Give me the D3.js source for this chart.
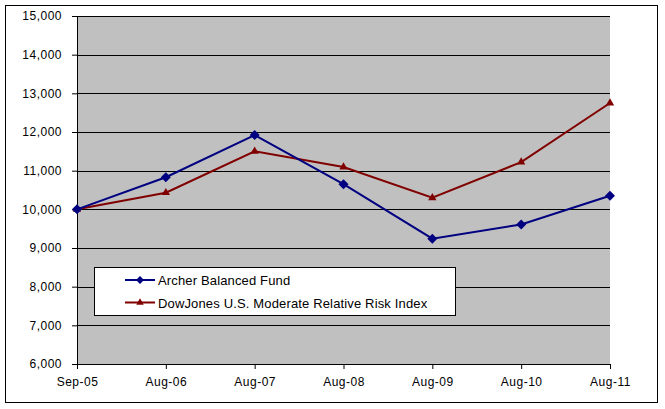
<!DOCTYPE html>
<html>
<head>
<meta charset="utf-8">
<script src="https://cdn.jsdelivr.net/npm/d3@7"></script>
<style>
  body { margin: 0; background: #fff; }
  text { font-family: "Liberation Sans", Arial, sans-serif; }
</style>
</head>
<body>
<div id="chart"></div>
<script>
// data
var months = ["Sep-05", "Aug-06", "Aug-07", "Aug-08", "Aug-09", "Aug-10", "Aug-11"];
var archer = [10000, 10830, 11920, 10650, 9240, 9610, 10350];
var dowJones = [10000, 10430, 11500, 11095, 10300, 11220, 12750];
var yTicks = [6000, 7000, 8000, 9000, 10000, 11000, 12000, 13000, 14000, 15000];
var seriesNames = ["Archer Balanced Fund", "DowJones U.S. Moderate Relative Risk Index"];

var W = 665, H = 409;
var margin = {top: 16, left: 77},
    width = 610 - margin.left,
    height = 364 - margin.top;

var svg = d3.select("#chart").append("svg")
    .attr("width", W)
    .attr("height", H);

// outer chart border
svg.append("rect")
    .attr("x", 5.5).attr("y", 5.5)
    .attr("width", 652).attr("height", 397)
    .attr("fill", "#fff")
    .attr("stroke", "#000");

var g = svg.append("g")
    .attr("transform", "translate(" + margin.left + "," + margin.top + ")");

var x = d3.scalePoint().domain(months).range([0, width]);
var y = d3.scaleLinear().domain([6000, 15000]).range([height, 0]);

// plot area
g.append("rect")
    .attr("width", width).attr("height", height)
    .attr("fill", "#c0c0c0");

// gridlines
g.selectAll(".grid")
    .data(yTicks.filter(function(d) { return d > 6000; }))
  .enter().append("line")
    .attr("class", "grid")
    .attr("x1", 0).attr("x2", width)
    .attr("y1", function(d) { return Math.round(y(d)) + 0.5; })
    .attr("y2", function(d) { return Math.round(y(d)) + 0.5; })
    .attr("stroke", "#000");

// y axis
var yAxis = g.append("g")
    .attr("class", "y axis")
    .call(d3.axisLeft(y).tickValues(yTicks).tickSize(5).tickPadding(10)
      .tickFormat(d3.format(",")));

// x axis
var xAxis = g.append("g")
    .attr("class", "x axis")
    .attr("transform", "translate(0," + height + ")")
    .call(d3.axisBottom(x).tickSize(5).tickPadding(8));

yAxis.select(".domain").attr("d", "M0.5," + height + "V0");
xAxis.select(".domain").attr("d", "M0,0.5H" + width);
g.selectAll(".axis path, .axis line").attr("stroke", "#000");
g.selectAll(".axis text")
    .attr("fill", "#000")
    .style("font-size", "12px")
    .style("letter-spacing", "0.5px");

var line = d3.line()
    .x(function(d, i) { return x(months[i]); })
    .y(function(d) { return y(d); });

var colors = ["#000080", "#800000"];

// dow jones series
g.append("path")
    .datum(dowJones)
    .attr("fill", "none")
    .attr("stroke", colors[1])
    .attr("stroke-width", 2)
    .attr("d", line);

g.selectAll(".tri")
    .data(dowJones)
  .enter().append("path")
    .attr("class", "tri")
    .attr("transform", function(d, i) { return "translate(" + x(months[i]) + "," + y(d) + ")"; })
    .attr("d", d3.symbol().type(d3.symbolTriangle).size(30))
    .attr("fill", colors[1]);

// archer series
g.append("path")
    .datum(archer)
    .attr("fill", "none")
    .attr("stroke", colors[0])
    .attr("stroke-width", 2)
    .attr("d", line);

g.selectAll(".dia")
    .data(archer)
  .enter().append("path")
    .attr("class", "dia")
    .attr("transform", function(d, i) { return "translate(" + x(months[i]) + "," + y(d) + ")"; })
    .attr("d", "M0,-5L5,0L0,5L-5,0Z")
    .attr("fill", colors[0]);

// legend
var legend = svg.append("g").attr("transform", "translate(94,267)");
legend.append("rect")
    .attr("x", 0.5).attr("y", 0.5)
    .attr("width", 361).attr("height", 48)
    .attr("fill", "#fff")
    .attr("stroke", "#000");

seriesNames.forEach(function(name, i) {
  var ly = 13 + i * 22.5;
  legend.append("line")
      .attr("x1", 31).attr("x2", 61)
      .attr("y1", ly).attr("y2", ly)
      .attr("stroke", colors[i])
      .attr("stroke-width", 2);
  if (i == 0) {
    legend.append("path")
        .attr("transform", "translate(46," + ly + ")")
        .attr("d", "M0,-4L4,0L0,4L-4,0Z")
        .attr("fill", colors[i]);
  } else {
    legend.append("path")
        .attr("transform", "translate(46," + ly + ")")
        .attr("d", d3.symbol().type(d3.symbolTriangle).size(24))
        .attr("fill", colors[i]);
  }
  legend.append("text")
      .attr("x", 64)
      .attr("y", ly + 5)
      .style("font-size", "13px")
      .style("letter-spacing", "0.15px")
      .text(name);
});
</script>
</body>
</html>
